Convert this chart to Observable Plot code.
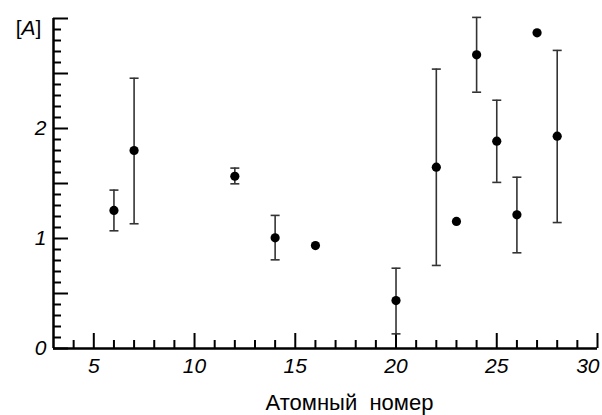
<!DOCTYPE html>
<html>
<head>
<meta charset="utf-8">
<script src="https://cdn.jsdelivr.net/npm/d3@7"></script>
<script src="https://cdn.jsdelivr.net/npm/@observablehq/plot@0.6"></script>
<style>
  html, body { margin: 0; padding: 0; background: #fff; }
  svg { display: block; }
</style>
</head>
<body>
<div id="chart"></div>
<script>
const atomicNumber = [6, 7, 12, 14, 16, 20, 22, 23, 24, 25, 26, 27, 28];
const value        = [1.255, 1.80, 1.566, 1.006, 0.936, 0.436, 1.648, 1.155, 2.67, 1.885, 1.215, 2.87, 1.93];
const errLow       = [1.07, 1.134, 1.497, 0.806, null, 0.133, 0.755, null, 2.33, 1.51, 0.87, null, 1.145];
const errHigh      = [1.44, 2.457, 1.64, 1.21, null, 0.73, 2.54, null, 3.01, 2.257, 1.557, null, 2.71];

const xMajorTicks = [5, 10, 15, 20, 25, 30];
const xMinorTicks = [4, 6, 7, 8, 9, 11, 12, 13, 14, 16, 17, 18, 19, 21, 22, 23, 24, 26, 27, 28, 29];
const yMajorTicks = [0, 0.5, 1, 1.5, 2, 2.5, 3];
const yMinorTicks = [0.1, 0.2, 0.3, 0.4, 0.6, 0.7, 0.8, 0.9, 1.1, 1.2, 1.3, 1.4, 1.6, 1.7, 1.8, 1.9,
                     2.1, 2.2, 2.3, 2.4, 2.6, 2.7, 2.8, 2.9];
const xTickLabels = [5, 10, 15, 20, 25];
const xLastLabel = [30];
const yTickLabels = [0, 1, 2];
const yUnitLabel = "[A]";
const xTitle = "Атомный\u00a0\u00a0номер";

const data = atomicNumber.map((x, i) => ({x, y: value[i], lo: errLow[i], hi: errHigh[i]}));
const withErr = data.filter(d => d.lo != null && d.hi != null);

const W = 602, H = 415;
const mL = 53, mR = 5, mT = 18, mB = 67;
const plotW = W - mL - mR, plotH = H - mT - mB;

const capSymbol = { draw(ctx) { ctx.moveTo(-4.5, 0); ctx.lineTo(4.5, 0); } };
const font = "'Liberation Sans', Arial, sans-serif";

const chart = Plot.plot({
  width: W, height: H,
  marginLeft: mL, marginRight: mR, marginTop: mT, marginBottom: mB,
  x: {domain: [3, 30], axis: null},
  y: {domain: [0, 3], axis: null},
  style: {fontFamily: font, background: "#fff"},
  marks: [
    // minor/major ticks on x (pointing up)
    Plot.tickX(xMinorTicks, {x: d => d, insetTop: plotH - 8, stroke: "#000", strokeWidth: 2}),
    Plot.tickX(xMajorTicks, {x: d => d, insetTop: plotH - 15, stroke: "#000", strokeWidth: 2}),
    // ticks on y (pointing right)
    Plot.tickY(yMinorTicks, {y: d => d, insetRight: plotW - 8, stroke: "#000", strokeWidth: 2}),
    Plot.tickY(yMajorTicks, {y: d => d, insetRight: plotW - 15, stroke: "#000", strokeWidth: 2}),
    // axis lines
    Plot.ruleY([0], {stroke: "#000", strokeWidth: 2.5}),
    Plot.ruleX([3], {stroke: "#000", strokeWidth: 2.5}),
    // tick labels
    Plot.text(xTickLabels, {x: d => d, y: 0, dy: 18, text: d => String(d), fontSize: 21, fontStyle: "italic", fill: "#000"}),
    Plot.text(xLastLabel, {x: d => d, y: 0, dy: 18, dx: 2, textAnchor: "end", text: d => String(d), fontSize: 21, fontStyle: "italic", fill: "#000"}),
    Plot.text(yTickLabels, {x: 3, y: d => d, dx: -13, text: d => String(d), fontSize: 21, fontStyle: "italic", fill: "#000"}),
    Plot.text([yUnitLabel], {x: 3, y: 3, dx: -25, dy: 10, text: d => d, fontSize: 21, fill: "#000"}),
    // axis title
    Plot.text([xTitle], {frameAnchor: "bottom", dx: 24, dy: 61, text: d => d, fontSize: 22, fill: "#000"}),
    // error bars
    Plot.ruleX(withErr, {x: "x", y1: "lo", y2: "hi", stroke: "#333", strokeWidth: 1.6}),
    Plot.dot(withErr, {x: "x", y: "lo", symbol: capSymbol, r: 4, stroke: "#333", strokeWidth: 1.6, fill: "none"}),
    Plot.dot(withErr, {x: "x", y: "hi", symbol: capSymbol, r: 4, stroke: "#333", strokeWidth: 1.6, fill: "none"}),
    // points
    Plot.dot(data, {x: "x", y: "y", r: 4.6, fill: "#000", stroke: "none"})
  ]
});

// italic A within [A]
chart.querySelectorAll("text").forEach(t => {
  if (t.textContent === yUnitLabel) {
    t.textContent = "";
    const parts = [["[", "normal"], ["A", "italic"], ["]", "normal"]];
    parts.forEach(([s, st]) => {
      const ts = document.createElementNS("http://www.w3.org/2000/svg", "tspan");
      ts.textContent = s;
      ts.setAttribute("font-style", st);
      t.appendChild(ts);
    });
  }
});

document.getElementById("chart").appendChild(chart);
</script>
</body>
</html>
